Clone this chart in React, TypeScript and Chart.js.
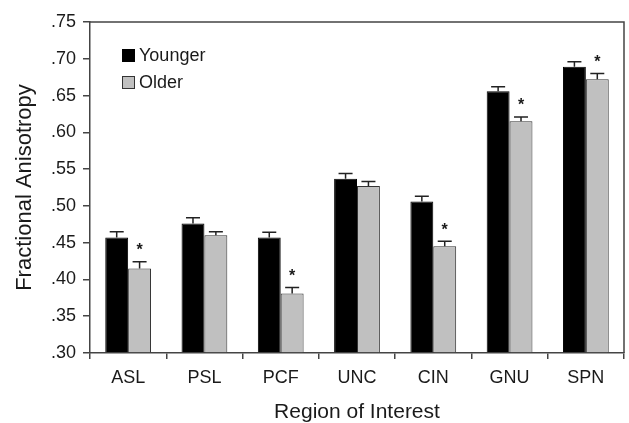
import React, { useEffect, useRef } from 'react';
import { Chart, registerables } from 'chart.js';

Chart.register(...registerables);

const categories = ['ASL', 'PSL', 'PCF', 'UNC', 'CIN', 'GNU', 'SPN'];
const seriesNames = ['Younger', 'Older'];
const younger = [0.457, 0.476, 0.457, 0.537, 0.506, 0.656, 0.689];
const older = [0.415, 0.46, 0.381, 0.527, 0.445, 0.615, 0.672];
const youngerErr = [0.008, 0.008, 0.007, 0.007, 0.007, 0.006, 0.007];
const olderErr = [0.009, 0.005, 0.008, 0.006, 0.007, 0.006, 0.008];
const significant = [true, false, true, false, true, true, true];
const yMin = 0.3;
const yMax = 0.75;
const yStep = 0.05;

const FONT = "'Liberation Sans', Arial, Helvetica, sans-serif";
const TEXT = '#1a1a1a';
const AXIS = '#444';
const colors = ['#000000', '#c0c0c0'];
const borders = ['#000000', '#333333'];
const errs = [youngerErr, olderErr];

const errorBarPlugin = {
  id: 'errorBars',
  afterDatasetsDraw(chart: any) {
    const { ctx } = chart;
    const y = chart.scales.y;
    ctx.save();
    ctx.strokeStyle = '#222';
    ctx.lineWidth = 1.5;
    ctx.fillStyle = TEXT;
    ctx.font = `bold 16px ${FONT}`;
    ctx.textAlign = 'center';
    ctx.textBaseline = 'middle';
    chart.data.datasets.forEach((ds: any, di: number) => {
      const meta = chart.getDatasetMeta(di);
      meta.data.forEach((bar: any, i: number) => {
        const v = ds.data[i];
        const e = errs[di][i];
        const yBar = y.getPixelForValue(v);
        const yTop = y.getPixelForValue(v + e);
        const x = bar.x;
        ctx.beginPath();
        ctx.moveTo(x, yBar);
        ctx.lineTo(x, yTop);
        ctx.moveTo(x - 7, yTop);
        ctx.lineTo(x + 7, yTop);
        ctx.stroke();
        if (di === 1 && significant[i]) {
          ctx.fillText('*', x, yTop - 11);
        }
      });
    });
    ctx.restore();
  },
};

const framePlugin = {
  id: 'frame',
  afterDraw(chart: any) {
    const { ctx, chartArea: a } = chart;
    ctx.save();
    ctx.strokeStyle = AXIS;
    ctx.lineWidth = 1.5;
    ctx.beginPath();
    ctx.moveTo(a.left, a.top);
    ctx.lineTo(a.right, a.top);
    ctx.lineTo(a.right, a.bottom);
    ctx.stroke();
    ctx.restore();
  },
};

const legendPlugin = {
  id: 'insideLegend',
  afterDraw(chart: any) {
    const { ctx, chartArea: a } = chart;
    ctx.save();
    ctx.font = `18px ${FONT}`;
    ctx.textBaseline = 'middle';
    ctx.textAlign = 'left';
    chart.data.datasets.forEach((ds: any, i: number) => {
      const bx = a.left + 32;
      const by = a.top + 27 + i * 27;
      ctx.fillStyle = colors[i];
      ctx.fillRect(bx, by, 13, 13);
      ctx.strokeStyle = borders[i];
      ctx.lineWidth = 1;
      ctx.strokeRect(bx + 0.5, by + 0.5, 12, 12);
      ctx.fillStyle = TEXT;
      ctx.fillText(ds.label, bx + 17, by + 7);
    });
    ctx.restore();
  },
};

export default function App() {
  const ref = useRef<HTMLCanvasElement | null>(null);
  useEffect(() => {
    document.body.style.margin = '0';
    if (!ref.current) return;
    const chart = new Chart(ref.current, {
      type: 'bar',
      data: {
        labels: categories,
        datasets: [
          {
            label: seriesNames[0],
            data: younger,
            backgroundColor: colors[0],
            borderColor: borders[0],
            borderWidth: 1,
            base: yMin,
            categoryPercentage: 0.6,
            barPercentage: 1.0,
          },
          {
            label: seriesNames[1],
            data: older,
            backgroundColor: colors[1],
            borderColor: borders[1],
            borderWidth: 1,
            base: yMin,
            categoryPercentage: 0.6,
            barPercentage: 1.0,
          },
        ],
      },
      options: {
        responsive: false,
        animation: false,
        layout: { padding: { top: 22, right: 5, bottom: 0, left: 0 } },
        plugins: {
          legend: { display: false },
          tooltip: { enabled: false },
        },
        scales: {
          x: {
            grid: {
              display: true,
              drawOnChartArea: false,
              drawTicks: true,
              tickLength: 6,
              color: AXIS,
              lineWidth: 1.5,
              offset: true,
            },
            border: { display: true, color: AXIS, width: 1.5 },
            ticks: { font: { family: FONT, size: 18 }, color: TEXT, padding: 8 },
            title: {
              display: true,
              text: 'Region of Interest',
              color: TEXT,
              font: { family: FONT, size: 21, lineHeight: 1 },
              padding: { top: 0, bottom: 0 },
            },
            afterFit: (s: any) => {
              s.height = 70;
            },
          },
          y: {
            min: yMin,
            max: yMax,
            grid: {
              display: true,
              drawOnChartArea: false,
              drawTicks: true,
              tickLength: 7,
              color: AXIS,
              lineWidth: 1.5,
            },
            border: { display: true, color: AXIS, width: 1.5 },
            ticks: {
              stepSize: yStep,
              font: { family: FONT, size: 18 },
              color: TEXT,
              padding: 7,
              callback: (v: any) => Number(v).toFixed(2).replace(/^0/, ''),
            },
            title: {
              display: true,
              text: 'Fractional Anisotropy',
              color: TEXT,
              font: { family: FONT, size: 22, lineHeight: 1 },
              padding: { top: 14, bottom: 0 },
            },
            afterFit: (s: any) => {
              s.width = 90;
            },
          },
        },
      },
      plugins: [errorBarPlugin, framePlugin, legendPlugin],
    });
    return () => chart.destroy();
  }, []);
  return <canvas ref={ref} width={629} height={423} style={{ display: 'block' }} />;
}
